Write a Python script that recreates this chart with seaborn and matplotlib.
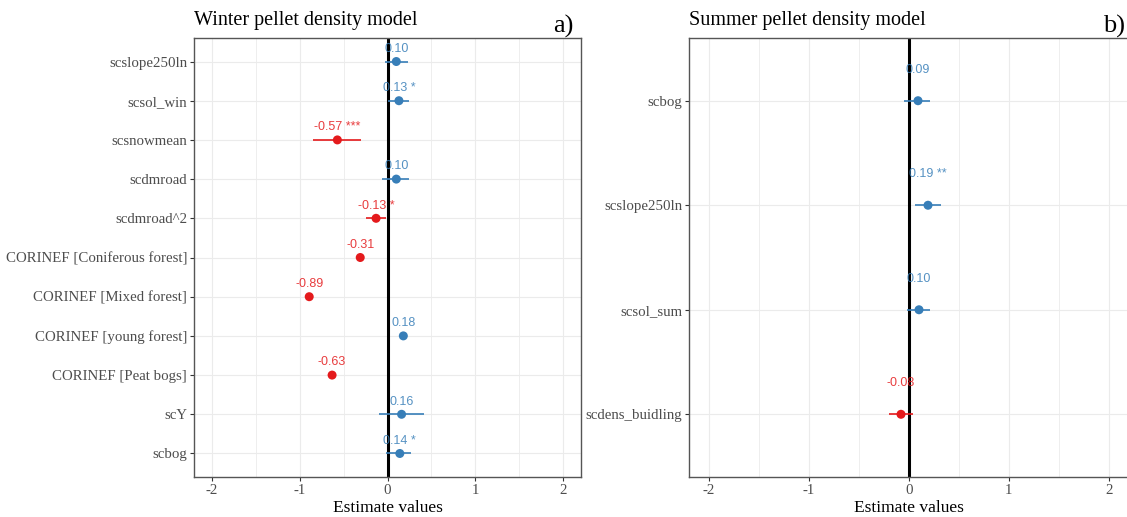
import matplotlib
matplotlib.use("Agg")
import matplotlib.pyplot as plt
import seaborn as sns
import pandas as pd
import numpy as np
from matplotlib.ticker import MultipleLocator

# ---- data ----
win_terms = ["scslope250ln", "scsol_win", "scsnowmean", "scdmroad", "scdmroad^2",
             "CORINEF [Coniferous forest]", "CORINEF [Mixed forest]",
             "CORINEF [young forest]", "CORINEF [Peat bogs]", "scY", "scbog"]
win_est = [0.10, 0.13, -0.57, 0.10, -0.13, -0.31, -0.89, 0.18, -0.63, 0.16, 0.14]
win_lo = [-0.03, 0.01, -0.85, -0.06, -0.25, -0.33, -0.91, 0.16, -0.65, -0.10, -0.015]
win_hi = [0.23, 0.25, -0.30, 0.25, -0.015, -0.29, -0.87, 0.20, -0.61, 0.42, 0.27]
win_sig = ["", " *", " ***", "", " *", "", "", "", "", "", " *"]

sum_terms = ["scbog", "scslope250ln", "scsol_sum", "scdens_buidling"]
sum_est = [0.09, 0.19, 0.10, -0.08]
sum_lo = [-0.05, 0.06, -0.02, -0.20]
sum_hi = [0.21, 0.32, 0.21, 0.04]
sum_sig = ["", " **", "", ""]

x_ticks = [-2, -1, 0, 1, 2]

BLUE = "#377EB8"
RED = "#E41A1C"

sns.set_theme(style="whitegrid")
plt.rcParams["font.family"] = ["Liberation Serif", "DejaVu Serif"]

fig = plt.figure(figsize=(11.27, 5.17), dpi=100)
ax1 = fig.add_axes([194/1127, 1-477/517, (581-194)/1127, (477-38)/517])
ax2 = fig.add_axes([689/1127, 1-477/517, 440/1127, (477-38)/517])


def draw(ax, terms, est, lo, hi, sig, title, tag, tag_x, label_off):
    df = pd.DataFrame({"term": terms, "est": est, "lo": lo, "hi": hi, "sig": sig})
    df["pos"] = np.arange(len(df))
    df["dir"] = np.where(df["est"] >= 0, "pos", "neg")
    pal = {"pos": BLUE, "neg": RED}
    for _, r in df.iterrows():
        ax.hlines(r["pos"], r["lo"], r["hi"], color=pal[r["dir"]], lw=1.2, zorder=3)
    sns.scatterplot(data=df, x="est", y="pos", hue="dir", palette=pal, s=42,
                    edgecolor="none", legend=False, ax=ax, zorder=4)
    for _, r in df.iterrows():
        ax.text(r["est"], r["pos"] - label_off, f"{r['est']:.2f}{r['sig']}",
                ha="center", va="bottom", fontsize=9, color=pal[r["dir"]],
                alpha=0.85, family=["Liberation Sans", "DejaVu Sans"], zorder=5)
    ax.axvline(0, color="black", lw=2.2, zorder=2)
    ax.set_xlim(-2.2, 2.2)
    ax.set_ylim(len(df) - 1 + 0.6, -0.6)
    ax.set_yticks(df["pos"])
    ax.set_yticklabels(df["term"])
    ax.set_xticks(x_ticks)
    ax.set_xticklabels([str(t) for t in x_ticks])
    ax.xaxis.set_minor_locator(MultipleLocator(0.5))
    ax.grid(True, which="major", color="#EBEBEB", lw=0.8)
    ax.grid(True, which="minor", axis="x", color="#EBEBEB", lw=0.6)
    ax.set_axisbelow(True)
    ax.set_facecolor("white")
    for s in ax.spines.values():
        s.set_visible(True)
        s.set_color("#555555")
        s.set_linewidth(1.0)
    ax.tick_params(axis="both", which="major", length=3, width=0.8, color="#333333",
                   labelsize=10.7, labelcolor="#4D4D4D", pad=2, left=True, bottom=True)
    ax.tick_params(axis="both", which="minor", length=0)
    ax.set_xlabel("Estimate values", fontsize=12.5, color="black", labelpad=2)
    ax.set_ylabel("")
    ax.set_title(title, loc="left", fontsize=14.5, color="black", pad=9)
    ax.text(tag_x, 1.0, tag, transform=ax.transAxes, ha="right", va="bottom",
            fontsize=19, color="black")


draw(ax1, win_terms, win_est, win_lo, win_hi, win_sig,
     "Winter pellet density model", "a)", 0.98, 0.17)
draw(ax2, sum_terms, sum_est, sum_lo, sum_hi, sum_sig,
     "Summer pellet density model", "b)", 0.99, 0.24)

fig.savefig("out.png", dpi=100)
